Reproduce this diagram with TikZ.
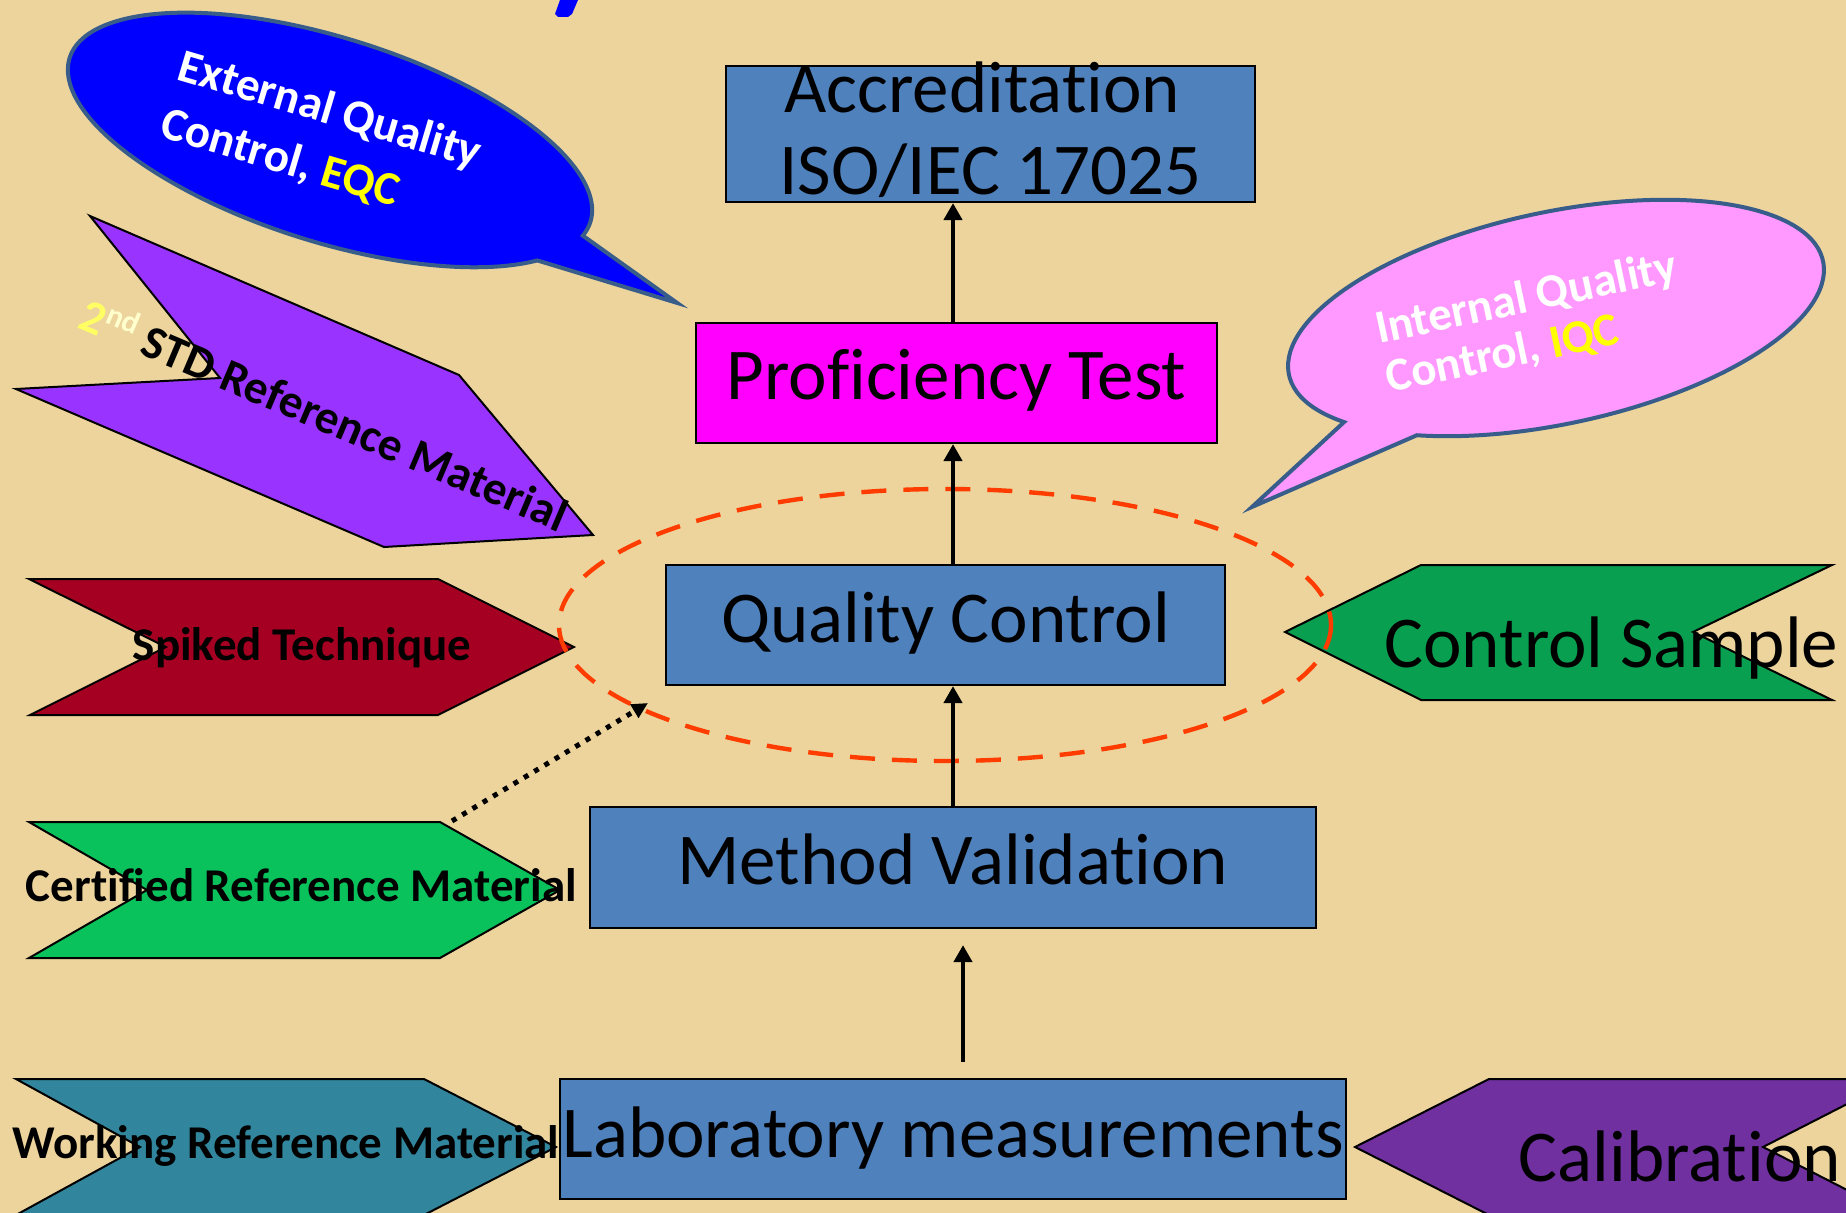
\documentclass[tikz,border=0pt]{standalone}
\usepackage{fontspec}
\setmainfont{Carlito}[Ligatures=NoCommon]
\usetikzlibrary{arrows.meta}
\definecolor{bg}{RGB}{236,212,156}
\definecolor{boxblue}{RGB}{79,129,189}
\definecolor{bubline}{RGB}{56,93,138}
\definecolor{pinkb}{RGB}{255,153,255}
\definecolor{magb}{RGB}{255,0,255}
\definecolor{purp}{RGB}{153,51,255}
\definecolor{spk}{RGB}{165,0,33}
\definecolor{crm}{RGB}{10,194,92}
\definecolor{csg}{RGB}{8,160,80}
\definecolor{wrm}{RGB}{49,133,156}
\definecolor{cal}{RGB}{112,48,160}
\definecolor{qcred}{RGB}{255,60,0}
\definecolor{yel}{RGB}{255,255,0}
\definecolor{yel2}{RGB}{255,255,100}
\definecolor{nd}{RGB}{255,255,205}
\definecolor{pureblue}{RGB}{0,0,255}
\begin{document}
\begin{tikzpicture}[x=0.5pt,y=-0.5pt,
  box/.style={draw=black, line width=1.1pt, inner sep=0pt, align=center,
    font=\fontsize{36.5}{41}\selectfont},
  big/.style={inner sep=0pt, anchor=base, font=\fontsize{36.5}{41}\selectfont},
  chev/.style={draw=black, line width=1pt, line join=miter},
  lbl/.style={inner sep=0pt, anchor=base, font=\bfseries\fontsize{23.5}{28}\selectfont},
  bubble/.style={draw=bubline, line width=2pt, line join=miter},
  bubtxt/.style={inner sep=0pt, anchor=base west, align=left, text=white},
  arr/.style={line width=2.2pt, -{Triangle[length=8.5pt,width=9pt]}},
  dotarr/.style={line width=2.5pt, dash pattern=on 2.5pt off 3.5pt,
    -{Triangle[length=8pt,width=7.5pt]}}]
\useasboundingbox (0,0) rectangle (1846,1213);
\clip (0,0) rectangle (1846,1213);
\fill[bg] (0,0) rectangle (1846,1213);

% fragment of a title letter at the top edge
\fill[pureblue] (560,0) -- (578,0) -- (572,14) -- (568,17) -- (558,17) -- (555,14) -- cycle;

% External QC speech bubble
\begin{scope}[shift={(330,140)}, rotate=-17.5]
  \draw[bubble, fill=pureblue] (234,52.5)
    arc[start angle=31, end angle=368.6, x radius=273, y radius=102]
    -- (380,51) -- cycle;
\end{scope}
\node[bubtxt, rotate=-16.5, font=\bfseries\fontsize{23.5}{30}\selectfont] (eqc) at (158,136.5)
  {External Quality\\Control, \textcolor{yel}{EQC}};

% Internal QC speech bubble
\begin{scope}[shift={(1556,318)}, rotate=12]
  \draw[bubble, fill=pinkb] (-228.96,57.73)
    arc[start angle=147, end angle=486, x radius=273, y radius=106]
    -- (-336.6,121.6) -- cycle;
\end{scope}
\node[bubtxt, rotate=12, font=\bfseries\fontsize{23.5}{25}\selectfont] (iqc) at (1389.4,392.9)
  {Internal Quality\\Control, \textcolor{yel}{IQC}};

% left chevrons
\draw[chev, fill=purp] (90,216) -- (459,375) -- (593,535) -- (384,547) -- (16,389) -- (220,378) -- cycle;
\node[lbl, rotate=-23] (std) at (318,430)
  {\textcolor{yel2}{2}\raisebox{0.33em}{\fontsize{15.5}{16}\selectfont\textcolor{nd}{nd}} STD Reference Material};

\draw[chev, fill=spk] (29,579) -- (438,579) -- (574,647) -- (438,715) -- (30,715) -- (166,647) -- cycle;
\node[lbl] (spkt) at (302,660) {Spiked Technique};

\draw[chev, fill=crm] (29,822) -- (440,822) -- (560,890) -- (440,958) -- (29,958) -- (147,890) -- cycle;
\node[lbl] (crmt) at (301.5,901) {Certified Reference Material};
\coordinate (crmcorner) at (452,821);

\draw[chev, fill=wrm] (16,1079) -- (424,1079) -- (556,1147) -- (424,1215) -- (16,1215) -- (140,1147) -- cycle;
\node[lbl] (wrmt) at (286,1158) {Working Reference Material};

% right chevrons
\draw[chev, fill=csg] (1285,632) -- (1421,565) -- (1832,565) -- (1693,632) -- (1832,700) -- (1421,700) -- cycle;
\node[big] (cst) at (1611.5,667) {Control Sample};

\draw[chev, fill=cal] (1355,1147) -- (1489,1079) -- (1896,1079) -- (1763,1147) -- (1896,1215) -- (1489,1215) -- cycle;
\node[big] (calt) at (1680,1181) {Calibration};

% main boxes
\node[box, fill=boxblue, minimum width=264.5pt, minimum height=68pt, text height=61pt, text depth=0pt]
  (acc) at (990.5,134) {Accreditation\kern8.25pt\\ISO/IEC 17025};
\node[box, fill=magb, minimum width=260.5pt, minimum height=60pt, text height=17pt, text depth=0pt]
  (pt) at (956.5,383) {Proficiency Test};
\node[box, fill=boxblue, minimum width=279.5pt, minimum height=60pt, text height=17pt, text depth=0pt]
  (qc) at (945.5,625) {Quality Control};
\node[box, fill=boxblue, minimum width=363pt, minimum height=60.5pt, text height=16.5pt, text depth=0pt]
  (mv) at (953,867.5) {Method Validation};
\node[box, fill=boxblue, minimum width=393pt, minimum height=60pt, text height=18pt, text depth=0pt]
  (lab) at (953,1139) {Laboratory measurements};

% dashed ellipse round quality control
\draw[qcred, line width=2.2pt, dash pattern=on 12.5pt off 8.5pt]
  (945,625) ellipse [x radius=386, y radius=136];
\coordinate (qcin) at (648,703);

% connectors
\coordinate (ax) at (953,0);
\coordinate (bx) at (963,0);
\draw[arr] (pt.north -| ax) -- (acc.south -| ax);
\draw[arr] (qc.north -| ax) -- (pt.south -| ax);
\draw[arr] (mv.north -| ax) -- (qc.south -| ax);
\draw[arr, shorten <=8pt, shorten >=8pt] (lab.north -| bx) -- (mv.south -| bx);
\draw[dotarr] (crmcorner) -- (qcin);
\end{tikzpicture}
\end{document}
